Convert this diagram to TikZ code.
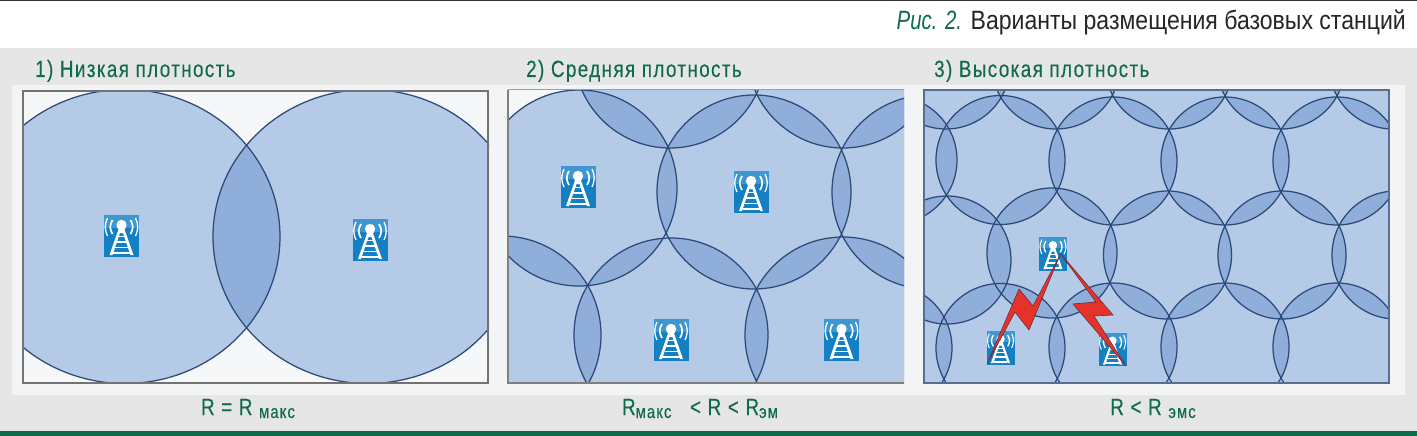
\documentclass[tikz,border=0pt]{standalone}
\usepackage{fontspec}
\setmainfont{Liberation Sans}
\newfontfamily\headfont[FakeStretch=0.8,LetterSpace=6,FakeBold=0.25]{Liberation Sans}
\newfontfamily\titlefont[FakeStretch=0.87]{Liberation Sans}
\newfontfamily\titleitalic[FakeStretch=0.77]{Liberation Sans}
\definecolor{bandgray}{HTML}{E6E6E6}
\definecolor{bandlight}{HTML}{F3F4F6}
\definecolor{paneltint}{HTML}{F6F7F9}
\definecolor{cellone}{HTML}{B4CAE7}
\definecolor{celltwo}{HTML}{8FAEDA}
\definecolor{celledge}{HTML}{2B4A78}
\definecolor{heading}{HTML}{0E6B4F}
\definecolor{barcol}{HTML}{0B6B4A}
\definecolor{iconblue}{HTML}{1480C4}
\definecolor{iconsky}{HTML}{3F97D2}
\definecolor{boltred}{HTML}{E5332A}
\definecolor{boltedge}{HTML}{6E2B3E}
\tikzset{
  headtext/.style={text=heading,anchor=base west,inner sep=0pt,font=\headfont\fontsize{23.5}{26}\selectfont},
  formula/.style={text=heading,anchor=base,inner sep=0pt,font=\headfont\fontsize{23.5}{26}\selectfont},
  bolt/.style={fill=boltred,draw=boltedge,line width=0.6pt,line join=miter},
}
\newcommand\subtxt[1]{\raisebox{-3pt}{\fontsize{18.5}{20}\selectfont #1}}
% list entries: cx/cy/rx/ry
\newcommand\cellfield[1]{%
  \foreach \xa/\ya/\rxa/\rya [count=\ia] in #1 {%
    \fill[cellone] (\xa,\ya) circle[x radius=\rxa, y radius=\rya];
  }%
  \foreach \xa/\ya/\rxa/\rya [count=\ia] in #1 {%
    \begin{scope}
      \clip (\xa,\ya) circle[x radius=\rxa, y radius=\rya];
      \foreach \xb/\yb/\rxb/\ryb [count=\ib] in #1 {%
        \ifnum\ib>\ia
          \fill[celltwo] (\xb,\yb) circle[x radius=\rxb, y radius=\ryb];
        \fi
      }%
    \end{scope}
  }%
  \foreach \xa/\ya/\rxa/\rya [count=\ia] in #1 {%
    \draw[celledge,line width=1.25pt] (\xa,\ya) circle[x radius=\rxa, y radius=\rya];
  }%
}
\newcommand\towericon[3]{%
  \begin{scope}[shift={(#1,#2)},scale=#3]
    \pgfmathsetlengthmacro{\lwa}{1.7*#3}
    \pgfmathsetlengthmacro{\lwb}{1.3*#3}
    \fill[iconblue] (-17.5,-21) rectangle (17.5,21);
    \fill[iconsky] (-17.5,-21) rectangle (17.5,-8);
    \draw[white,line width=\lwa] (-9,-16) .. controls (-12,-11) and (-12,-7) .. (-9,-2);
    \draw[white,line width=\lwa] (9,-16) .. controls (12,-11) and (12,-7) .. (9,-2);
    \draw[white,line width=\lwb] (-14,-18) .. controls (-17,-11) and (-17,-7) .. (-14,0);
    \draw[white,line width=\lwb] (14,-18) .. controls (17,-11) and (17,-7) .. (14,0);
    \fill[white] (0,-11) circle[radius=5.2];
    \fill[white] (-2.5,-8) -- (2.5,-8) -- (12,19) -- (9,19) -- (1.5,-3) -- (-1.5,-3) -- (-9,19) -- (-12,19) -- cycle;
    \fill[white] (-3.5,-0.5) rectangle (3.5,1.2);
    \fill[white] (-5,5) rectangle (5,6.8);
    \fill[white] (-6.5,10.5) rectangle (6.5,12.3);
    \fill[white] (-8.5,16) rectangle (8.5,18.2);
  \end{scope}%
}
\begin{document}
\begin{tikzpicture}[x=1pt,y=-1pt]
\useasboundingbox (0,0) rectangle (1417,436);
\fill[white] (0,0) rectangle (1417,436);
\fill[black!80] (0,0) rectangle (1417,1.5);
\fill[bandgray] (0,48) rectangle (1417,431);
\fill[bandlight] (12,85) rectangle (1405,395);
\fill[barcol] (0,431) rectangle (1417,436);

% panel 1
\fill[paneltint] (23,91) rectangle (488,383);
\begin{scope}
  \clip (23,91) rectangle (489,383);
  \def\cellsA{125/236.5/155/147,368/236.5/155/147}
  \cellfield{\cellsA}
\end{scope}
\draw[black!55,line width=1.2pt] (23,91) rectangle (488,383);
\towericon{121.5}{236}{1}
\towericon{370}{240}{1}

% panel 2
\fill[paneltint] (508,90) rectangle (904,383);
\begin{scope}
  \clip (508,90) rectangle (904,383);
  \fill[cellone] (508,125) -- (579,91) -- (904,90) -- (904,383) -- (508,383) -- cycle;
  \def\cellsB{579/188/98/98,754/192/97/97,929/192/97/97,670/52/96/96,843/52/96/96,502/335/99/99,671/335/97/97,843/335/98/98}
  \cellfield{\cellsB}
\end{scope}
\draw[black!50,line width=1.1pt] (904,383) -- (508,383) -- (508,90);
\draw[cellone!80!black,line width=1pt] (508,90) -- (904,90);
\towericon{578}{187}{1}
\towericon{751}{192}{1}
\towericon{671}{340}{1}
\towericon{841.5}{340}{1}

% panel 3
\begin{scope}
  \clip (924,90) rectangle (1389,383);
  \fill[cellone] (924,90) rectangle (1389,383);
  \def\cellsC{946/65/64/64,1056/65/64/64,1169/65/64/64,1281/65/64/64,1393/65/64/64,
    893/160/64/64,1000.5/160/64.5/64.5,1113/161/64/64,1225/161/64/64,1337/161/64/64,
    947/260/64/64,1052/253/65/65,1167.5/255/64/64,1282/255/64/64,1396/255/64/64,
    888/348/64/64,1000.5/348/64.5/64.5,1113/347/64/64,1225/347/64/64,1337/347/64/64}
  \cellfield{\cellsC}
\end{scope}
\draw[celledge!80,line width=1.2pt] (924,90) rectangle (1389,383);
\towericon{1053}{254}{0.8}
\towericon{1000.5}{348}{0.8}
\towericon{1112.5}{349.5}{0.8}
\draw[bolt] (987,364) -- (1019,289) -- (1033,306) -- (1060,255) -- (1029,330) -- (1015,312) -- cycle;
\draw[bolt] (1060,253) -- (1113,315) -- (1094,316) -- (1126,366) -- (1073,304) -- (1096,302) -- cycle;

% texts
\node[anchor=base east,inner sep=0pt,text=black!85,font=\titlefont\fontsize{26.5}{28}\selectfont] (title) at (1406,30)
  {\textcolor{heading}{\titleitalic\itshape Рис. 2.} Варианты размещения базовых станций};
\node[headtext] (h1) at (35,77) {1) Низкая плотность};
\node[headtext] (h2) at (526,77) {2) Средняя плотность};
\node[headtext] (h3) at (934,77) {3) Высокая плотность};
\node[formula] (f1) at (248,415) {R = R \subtxt{макс}};
\node[formula] (f2) at (700,415) {R\subtxt{макс}\hspace{12pt} < R < R\subtxt{эм}};
\node[formula] (f3) at (1153,415) {R < R \subtxt{эмс}};
\end{tikzpicture}
\end{document}
